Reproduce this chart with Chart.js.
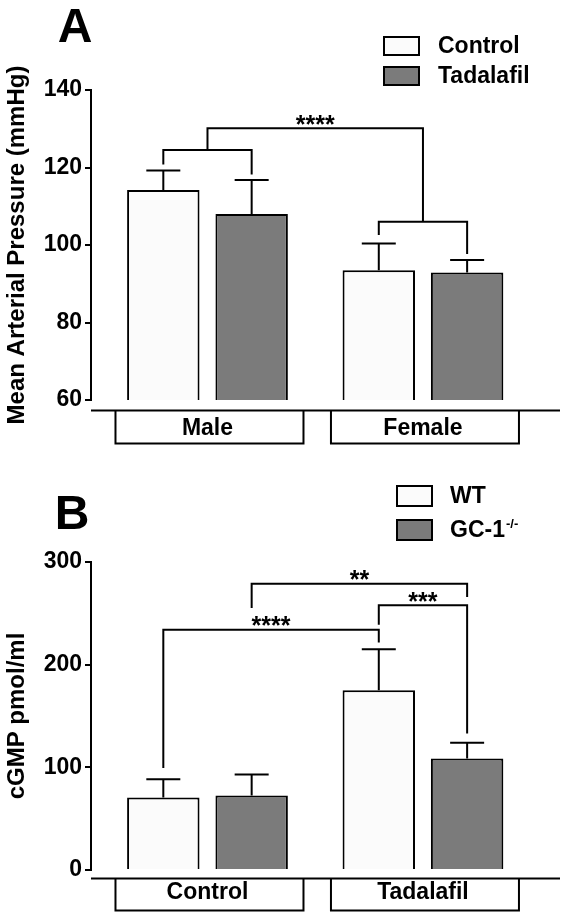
<!DOCTYPE html>
<html>
<head>
<meta charset="utf-8">
<script src="https://cdn.jsdelivr.net/npm/chart.js@4.4.1/dist/chart.umd.min.js"></script>
<style>
  body { margin: 0; background: #fff; }
  canvas { display: block; }
</style>
</head>
<body>
<canvas id="chartA" width="568" height="458"></canvas>
<canvas id="chartB" width="568" height="459"></canvas>
<script>
// Panel A: mean arterial pressure
const groupsA = ['Male', 'Female'];
const seriesA = ['Control', 'Tadalafil'];
const controlA = [114.2, 93.5];
const controlSemA = [5.0, 6.9];
const tadalafilA = [108.0, 92.9];
const tadalafilSemA = [8.8, 3.2];
// bracket ends refer to bars as [dataset, group]
const bracketsA = [
  { from: [[0, 0]], to: [[1, 0]], level: 124.5, dropFrom: 120.8, dropTo: 118.2, text: '' },
  { from: [[0, 1]], to: [[1, 1]], level: 106, dropFrom: 102.6, dropTo: 97.7, text: '' },
  { from: [[0, 0], [1, 0]], to: [[0, 1], [1, 1]], level: 130.1, dropFrom: 124.5, dropTo: 106, text: '****' }
];

// Panel B: cGMP
const groupsB = ['Control', 'Tadalafil'];
const seriesB = ['WT', 'GC-1'];
const seriesSupB = ['', '-/-'];
const wtB = [70.7, 175.0];
const wtSemB = [17.8, 40.0];
const gcB = [72.6, 108.6];
const gcSemB = [20.4, 15.4];
const bracketsB = [
  { from: [[0, 0]], to: [[0, 1]], level: 234.1, dropFrom: 99.4, dropTo: 221.5, text: '****' },
  { from: [[1, 0]], to: [[1, 1]], level: 278.8, dropFrom: 255.2, dropTo: 265.9, text: '**' },
  { from: [[0, 1]], to: [[1, 1]], level: 257.8, dropFrom: 239, dropTo: 133, text: '***' }
];

const FONT = "'Liberation Sans', Arial, sans-serif";
const INK = '#000';
const fills = ['#fbfbfb', '#7b7b7b'];

function makeChart(cfg) {
  const extras = {
    id: 'extras',
    afterDatasetsDraw(chart) {
      const ctx = chart.ctx;
      const y = chart.scales.y;
      ctx.save();
      ctx.strokeStyle = INK;
      ctx.lineWidth = 2;
      // error bars
      cfg.values.forEach((vals, d) => {
        chart.getDatasetMeta(d).data.forEach((bar, i) => {
          const top = y.getPixelForValue(vals[i] + cfg.sems[d][i]);
          ctx.beginPath();
          ctx.moveTo(bar.x, bar.y);
          ctx.lineTo(bar.x, top);
          ctx.moveTo(bar.x - 17, top);
          ctx.lineTo(bar.x + 17, top);
          ctx.stroke();
        });
      });
      // significance brackets
      const midX = refs => refs.reduce((s, r) => s + chart.getDatasetMeta(r[0]).data[r[1]].x, 0) / refs.length;
      ctx.font = `bold 25px ${FONT}`;
      ctx.textAlign = 'center';
      ctx.textBaseline = 'alphabetic';
      ctx.fillStyle = INK;
      cfg.brackets.forEach(b => {
        const x1 = midX(b.from), x2 = midX(b.to);
        const ly = y.getPixelForValue(b.level);
        ctx.beginPath();
        ctx.moveTo(x1, y.getPixelForValue(b.dropFrom));
        ctx.lineTo(x1, ly);
        ctx.lineTo(x2, ly);
        ctx.lineTo(x2, y.getPixelForValue(b.dropTo));
        ctx.stroke();
        if (b.text) {
          const m = ctx.measureText(b.text);
          ctx.fillText(b.text, (x1 + x2) / 2, ly - 3.5 - m.actualBoundingBoxDescent);
        }
      });
      ctx.restore();
    },
    afterDraw(chart) {
      const ctx = chart.ctx;
      const area = chart.chartArea;
      const x = chart.scales.x;
      ctx.save();
      ctx.strokeStyle = INK;
      ctx.lineWidth = 2;
      // category line and boxes
      const lineY = area.bottom + cfg.lineGap;
      ctx.beginPath();
      ctx.moveTo(area.left, lineY);
      ctx.lineTo(area.right, lineY);
      cfg.groups.forEach((g, i) => {
        const cx = x.getPixelForValue(i);
        ctx.moveTo(cx - 92, lineY);
        ctx.lineTo(cx - 92, lineY + cfg.boxH);
        ctx.lineTo(cx + 96, lineY + cfg.boxH);
        ctx.lineTo(cx + 96, lineY);
      });
      ctx.stroke();
      // legend
      const lg = cfg.legend;
      chart.data.datasets.forEach((ds, d) => {
        const by = lg.y + d * lg.pitch;
        ctx.fillStyle = ds.backgroundColor;
        ctx.fillRect(lg.x, by, lg.w, lg.h);
        ctx.strokeRect(lg.x, by, lg.w, lg.h);
        ctx.fillStyle = INK;
        ctx.font = `bold 23px ${FONT}`;
        ctx.textAlign = 'left';
        ctx.textBaseline = 'middle';
        ctx.fillText(ds.label, lg.textX, by + lg.h / 2 + 1);
        const sup = cfg.sup[d];
        if (sup) {
          const w = ctx.measureText(ds.label).width;
          ctx.font = `bold 13px ${FONT}`;
          ctx.fillText(sup, lg.textX + w + 1, by + lg.h / 2 - 6);
        }
      });
      // panel letter
      ctx.font = `bold 48px ${FONT}`;
      ctx.textAlign = 'center';
      ctx.textBaseline = 'alphabetic';
      ctx.fillText(cfg.letter, cfg.letterX, cfg.letterY);
      ctx.restore();
    }
  };

  return new Chart(document.getElementById(cfg.canvas), {
    type: 'bar',
    data: {
      labels: cfg.groups.map((g, i) => i),
      datasets: cfg.series.map((name, d) => ({
        label: name,
        data: cfg.values[d],
        backgroundColor: fills[d],
        borderColor: INK,
        borderWidth: 2,
        categoryPercentage: 0.82,
        barPercentage: 0.82
      }))
    },
    options: {
      responsive: false,
      animation: false,
      layout: { padding: { left: 0, top: cfg.top, right: 8, bottom: 0 } },
      plugins: { legend: { display: false }, tooltip: { enabled: false } },
      scales: {
        x: {
          type: 'linear',
          min: -0.5406,
          max: 1.636,
          offset: false,
          grid: { display: false, drawTicks: false },
          border: { display: false },
          afterBuildTicks: s => { s.ticks = cfg.groups.map((g, i) => ({ value: i })); },
          afterFit: s => { s.height = cfg.xHeight; },
          ticks: {
            autoSkip: false,
            maxRotation: 0,
            padding: cfg.tickPad,
            color: INK,
            font: { family: FONT, size: 23, weight: 'bold' },
            callback: v => cfg.groups[v]
          }
        },
        y: {
          min: cfg.yMin,
          max: cfg.yMax,
          afterFit: s => { s.width = 91; },
          grid: { display: true, drawOnChartArea: false, drawTicks: true, tickLength: 6, color: INK, lineWidth: 2 },
          border: { display: true, color: INK, width: 2 },
          ticks: {
            stepSize: cfg.yStep,
            padding: 3,
            color: INK,
            font: { family: FONT, size: 23, weight: 'bold' }
          },
          title: {
            display: true,
            text: cfg.yTitle,
            color: INK,
            padding: { top: 3, bottom: 0 },
            font: { family: FONT, size: 24, weight: 'bold', lineHeight: 1.2 }
          }
        }
      }
    },
    plugins: [extras]
  });
}

makeChart({
  canvas: 'chartA', letter: 'A', letterX: 75, letterY: 42,
  groups: groupsA, series: seriesA, sup: ['', ''],
  values: [controlA, tadalafilA], sems: [controlSemA, tadalafilSemA],
  brackets: bracketsA,
  yMin: 60, yMax: 140, yStep: 20, yTitle: 'Mean Arterial Pressure (mmHg)',
  top: 90, xHeight: 58, tickPad: 15, lineGap: 10.5, boxH: 33,
  legend: { x: 384, y: 37, w: 35, h: 18, pitch: 30, textX: 438 }
});

makeChart({
  canvas: 'chartB', letter: 'B', letterX: 72, letterY: 71,
  groups: groupsB, series: seriesB, sup: seriesSupB,
  values: [wtB, gcB], sems: [wtSemB, gcSemB],
  brackets: bracketsB,
  yMin: 0, yMax: 300, yStep: 100, yTitle: 'cGMP pmol/ml',
  top: 104, xHeight: 47, tickPad: 9, lineGap: 8.5, boxH: 32,
  legend: { x: 397, y: 28, w: 35, h: 20, pitch: 34, textX: 450 }
});
</script>
</body>
</html>
